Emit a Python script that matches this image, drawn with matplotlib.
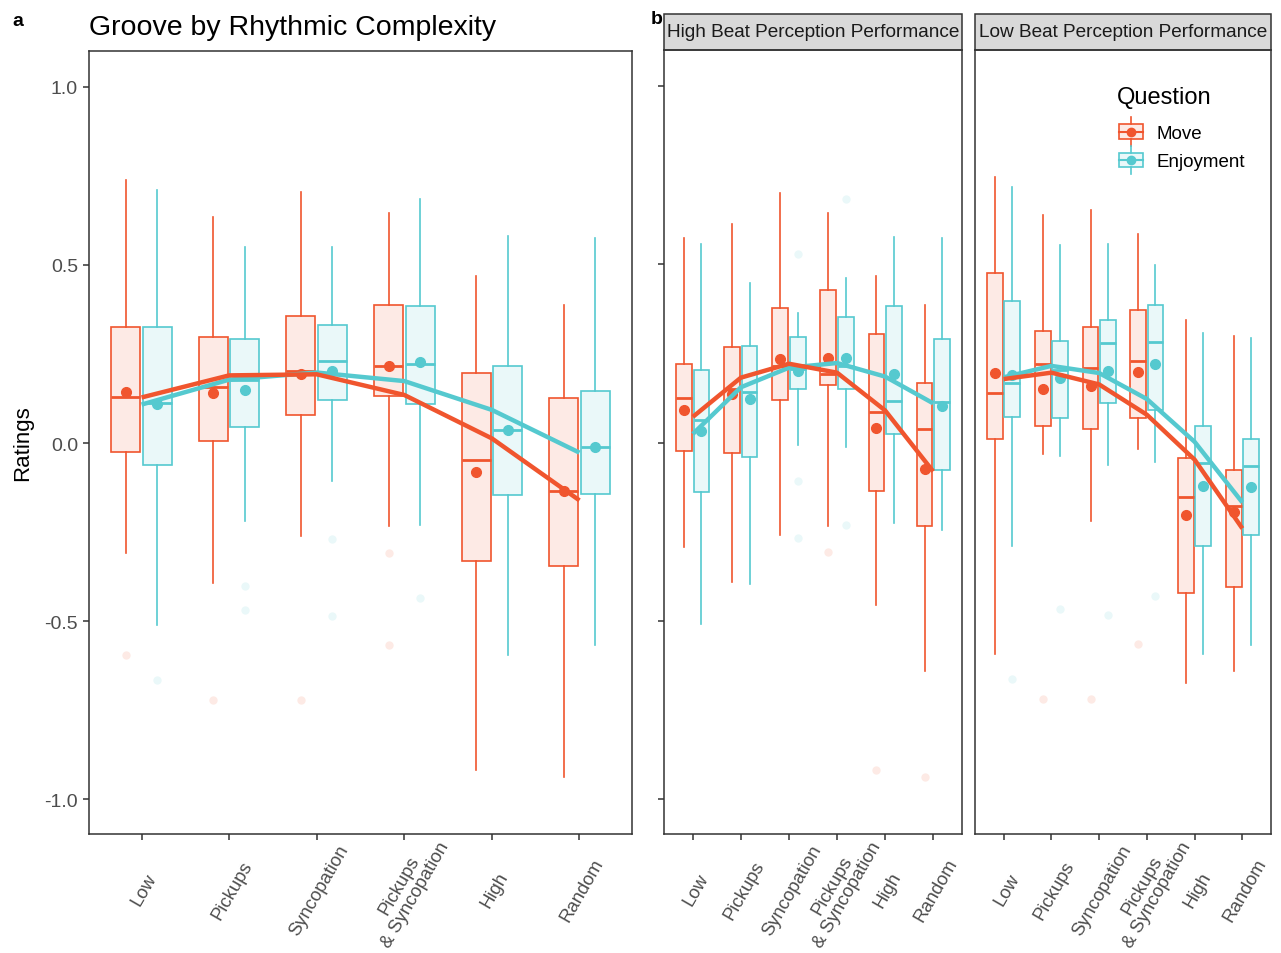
import matplotlib.pyplot as plt
from matplotlib.legend_handler import HandlerBase
from matplotlib.patches import Rectangle
from matplotlib.lines import Line2D
from matplotlib.colors import to_rgba
from matplotlib.transforms import ScaledTranslation

plt.rcParams['font.family'] = ['Liberation Sans', 'DejaVu Sans']

categories = ["Low", "Pickups", "Syncopation", "Pickups\n& Syncopation", "High", "Random"]
questions = ["Move", "Enjoyment"]
red = "#F0552E"
cyan = "#55C9CF"

# boxes per category: (whisker low, q1, median, q3, whisker high)
a_move_box = [(-0.309, -0.026, 0.128, 0.325, 0.740), (-0.394, 0.007, 0.156, 0.297, 0.636),
              (-0.261, 0.079, 0.203, 0.358, 0.704), (-0.233, 0.133, 0.216, 0.388, 0.647),
              (-0.919, -0.331, -0.047, 0.197, 0.469), (-0.939, -0.345, -0.136, 0.127, 0.389)]
a_move_mean = [0.142, 0.141, 0.195, 0.216, -0.082, -0.136]
a_move_fit = [0.128, 0.190, 0.193, 0.135, 0.013, -0.161]
a_move_out = [[-0.595], [-0.722], [-0.722], [-0.308, -0.566], [], []]

a_enjoy_box = [(-0.510, -0.061, 0.112, 0.325, 0.712), (-0.218, 0.045, 0.178, 0.291, 0.551),
               (-0.108, 0.120, 0.231, 0.332, 0.551), (-0.231, 0.110, 0.223, 0.386, 0.684),
               (-0.595, -0.145, 0.036, 0.217, 0.581), (-0.566, -0.144, -0.012, 0.145, 0.577)]
a_enjoy_mean = [0.111, 0.148, 0.203, 0.228, 0.036, -0.012]
a_enjoy_fit = [0.108, 0.178, 0.198, 0.174, 0.093, -0.027]
a_enjoy_out = [[-0.665], [-0.401, -0.469], [-0.269, -0.487], [-0.434], [], []]

hi_move_box = [(-0.292, -0.024, 0.124, 0.221, 0.574), (-0.392, -0.030, 0.150, 0.267, 0.613),
               (-0.259, 0.119, 0.215, 0.377, 0.701), (-0.234, 0.160, 0.193, 0.427, 0.643),
               (-0.455, -0.135, 0.086, 0.304, 0.467), (-0.640, -0.234, 0.039, 0.166, 0.386)]
hi_move_mean = [0.092, 0.135, 0.234, 0.237, 0.042, -0.074]
hi_move_fit = [0.072, 0.182, 0.221, 0.196, 0.090, -0.081]
hi_move_out = [[], [], [], [-0.307], [-0.918], [-0.938]]

hi_enjoy_box = [(-0.508, -0.140, 0.064, 0.204, 0.557), (-0.397, -0.041, 0.143, 0.270, 0.447),
                (-0.006, 0.149, 0.205, 0.296, 0.364), (-0.013, 0.149, 0.215, 0.351, 0.461),
                (-0.226, 0.024, 0.116, 0.383, 0.577), (-0.246, -0.077, 0.114, 0.289, 0.574)]
hi_enjoy_mean = [0.033, 0.121, 0.202, 0.237, 0.191, 0.102]
hi_enjoy_fit = [0.024, 0.155, 0.210, 0.223, 0.185, 0.110]
hi_enjoy_out = [[], [], [0.528, -0.107, -0.267], [0.682, -0.232], [], []]

lo_move_box = [(-0.592, 0.010, 0.140, 0.476, 0.745), (-0.033, 0.047, 0.221, 0.313, 0.639),
               (-0.219, 0.039, 0.210, 0.324, 0.651), (-0.018, 0.069, 0.228, 0.371, 0.584),
               (-0.675, -0.422, -0.153, -0.043, 0.343), (-0.640, -0.404, -0.178, -0.076, 0.300)]
lo_move_mean = [0.196, 0.151, 0.158, 0.198, -0.203, -0.195]
lo_move_fit = [0.178, 0.196, 0.163, 0.078, -0.048, -0.241]
lo_move_out = [[], [-0.720], [-0.720], [-0.565], [], []]

lo_enjoy_box = [(-0.291, 0.072, 0.168, 0.397, 0.716), (-0.038, 0.070, 0.203, 0.286, 0.554),
                (-0.063, 0.110, 0.278, 0.345, 0.556), (-0.055, 0.091, 0.281, 0.387, 0.497),
                (-0.594, -0.289, -0.058, 0.047, 0.306), (-0.567, -0.258, -0.065, 0.009, 0.293)]
lo_enjoy_mean = [0.190, 0.180, 0.201, 0.220, -0.121, -0.125]
lo_enjoy_fit = [0.183, 0.215, 0.195, 0.122, 0.002, -0.168]
lo_enjoy_out = [[-0.663], [-0.467], [-0.484], [-0.431], [], []]

ytick_vals = [-1.0, -0.5, 0.0, 0.5, 1.0]
ytick_labels = ["-1.0", "-0.5", "0.0", "0.5", "1.0"]


def draw_group(ax, boxes, means, outs, color, offset):
    xs = [i + 1 + offset for i in range(len(boxes))]
    stats = []
    for b, o in zip(boxes, outs):
        stats.append(dict(whislo=b[0], q1=b[1], med=b[2], q3=b[3], whishi=b[4], fliers=o))
    ax.bxp(stats, positions=xs, widths=0.33, patch_artist=True, showcaps=False,
           boxprops=dict(facecolor=to_rgba(color, 0.12), edgecolor=color, linewidth=1.2),
           medianprops=dict(color=color, linewidth=2.0),
           whiskerprops=dict(color=color, linewidth=1.2),
           flierprops=dict(marker='o', markersize=6, markerfacecolor=to_rgba(color, 0.12),
                           markeredgecolor='none'))
    ax.plot(xs, means, 'o', color=color, markersize=7, zorder=5)


def style_axis(ax, ylabels=True, yticks=True):
    ax.set_xlim(0.4, 6.6)
    ax.set_ylim(-1.098, 1.101)
    ax.set_xticks(range(1, 7))
    ax.set_xticklabels(categories, rotation=60, ha='center', va='center',
                       rotation_mode='anchor', multialignment='center', fontsize=13.3,
                       color='#4D4D4D', linespacing=1.05)
    if yticks:
        ax.set_yticks(ytick_vals)
        ax.set_yticklabels(ytick_labels if ylabels else [], fontsize=14, color='#4D4D4D')
    else:
        ax.set_yticks([])
    ax.tick_params(length=4, width=1.1, color='#333333', pad=4)
    ax.tick_params(axis='x', pad=36)
    for lbl in ax.get_xticklabels():
        lbl.set_transform(lbl.get_transform() + ScaledTranslation(0.03, 0, fig.dpi_scale_trans))
    for s in ax.spines.values():
        s.set_color('#333333')
        s.set_linewidth(1.1)


def strip(ax, text):
    h = 36 / 783
    ax.add_patch(Rectangle((0, 1), 1, h, transform=ax.transAxes, clip_on=False,
                           facecolor='#D9D9D9', edgecolor='#333333', linewidth=1.1))
    ax.text(0.5, 1 + h / 2, text, transform=ax.transAxes, ha='center', va='center',
            fontsize=13.7, color='#1A1A1A')


class BoxKey(HandlerBase):
    def create_artists(self, legend, orig_handle, xd, yd, width, height, fontsize, trans):
        col = orig_handle.get_color()
        x0, y0 = -xd, -yd
        bw, bh = width * 0.85, height * 0.75
        bx = x0 + (width - bw) / 2
        by = y0 + (height - bh) / 2
        cx, cy = x0 + width / 2, y0 + height / 2
        top = Line2D([cx, cx], [by + bh, y0 + height * 1.25], color=col, lw=1.2, transform=trans)
        bot = Line2D([cx, cx], [y0 - height * 0.25, by], color=col, lw=1.2, transform=trans)
        box = Rectangle((bx, by), bw, bh, facecolor=to_rgba(col, 0.12), edgecolor=col,
                        lw=1.2, transform=trans)
        med = Line2D([bx, bx + bw], [cy, cy], color=col, lw=1.5, transform=trans)
        dot = Line2D([cx], [cy], marker='o', ms=6, color=col, transform=trans)
        return [top, bot, box, med, dot]


fig = plt.figure(figsize=(12.81, 9.54), dpi=100)
W, H = 1281, 954
ax_a = fig.add_axes([89 / W, (H - 835) / H, 543 / W, 783 / H])
ax_hi = fig.add_axes([664 / W, (H - 835) / H, 298 / W, 784 / H])
ax_lo = fig.add_axes([975 / W, (H - 835) / H, 296 / W, 784 / H])

panels = [
    (ax_a, a_move_box, a_move_mean, a_move_fit, a_move_out,
     a_enjoy_box, a_enjoy_mean, a_enjoy_fit, a_enjoy_out),
    (ax_hi, hi_move_box, hi_move_mean, hi_move_fit, hi_move_out,
     hi_enjoy_box, hi_enjoy_mean, hi_enjoy_fit, hi_enjoy_out),
    (ax_lo, lo_move_box, lo_move_mean, lo_move_fit, lo_move_out,
     lo_enjoy_box, lo_enjoy_mean, lo_enjoy_fit, lo_enjoy_out),
]
for ax, mb, mm, mf, mo, eb, em, ef, eo in panels:
    draw_group(ax, mb, mm, mo, red, -0.18)
    draw_group(ax, eb, em, eo, cyan, 0.18)
    ax.plot(range(1, 7), ef, color=cyan, linewidth=3.2, zorder=6, solid_capstyle='butt')
    ax.plot(range(1, 7), mf, color=red, linewidth=3.2, zorder=7, solid_capstyle='butt')

style_axis(ax_a)
style_axis(ax_hi, ylabels=False)
style_axis(ax_lo, yticks=False)

ax_a.set_ylabel("Ratings", fontsize=16, color='black', labelpad=8)
ax_a.set_title("Groove by Rhythmic Complexity", loc='left', fontsize=20.5, pad=12)
strip(ax_hi, "High Beat Perception Performance")
strip(ax_lo, "Low Beat Perception Performance")

fig.text(12 / W, 1 - 22 / H, "a", fontsize=14, fontweight='bold', va='center')
fig.text(651 / W, 1 - 20 / H, "b", fontsize=14, fontweight='bold', va='center')

handles = [Line2D([], [], color=red, label=questions[0]),
           Line2D([], [], color=cyan, label=questions[1])]
leg = ax_lo.legend(handles=handles, title="Question", loc='upper right',
                   bbox_to_anchor=(0.97, 0.975), frameon=False, fontsize=13.5,
                   title_fontsize=17, handler_map={Line2D: BoxKey()},
                   handlelength=1.5, handleheight=1.2, labelspacing=0.45, handletextpad=0.6)
leg._legend_box.align = 'left'
leg._legend_box.sep = 9.8

fig.savefig("out.png", dpi=100)
